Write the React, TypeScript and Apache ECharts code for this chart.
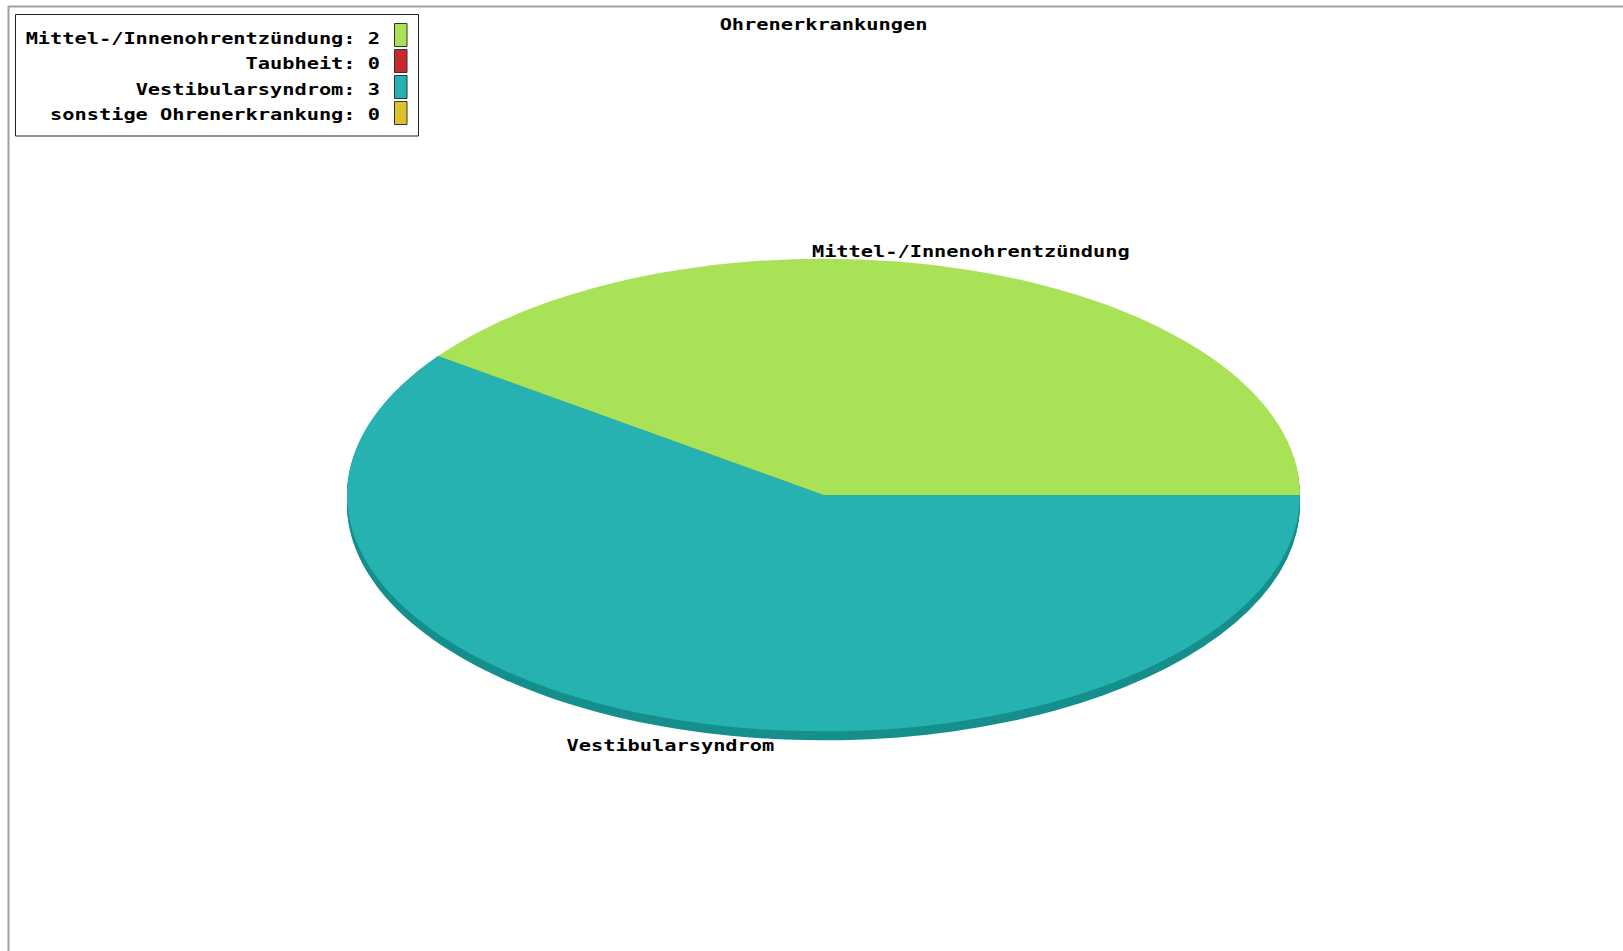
import React, { useEffect, useRef } from "react";
import * as echarts from "echarts";

const chartTitle = "Ohrenerkrankungen";
const categories = [
  "Mittel-/Innenohrentzündung",
  "Taubheit",
  "Vestibularsyndrom",
  "sonstige Ohrenerkrankung",
];
const values = [2, 0, 3, 0];
const colors = ["#a9e157", "#c8292b", "#25b2b0", "#ddc22c"];
const sideColors = ["#87b546", "#9a1f1f", "#168f8d", "#b09a22"];

const W = 1623;
const H = 951;
const CX = 823.5;
const CY = 495;
const RX = 476.5;
const RY = 236.5;
const DEPTH = 9;
const FONT = "bold 16px 'DejaVu Sans Mono'";
const SX = 1.27;

const rad = (d: number) => (d * Math.PI) / 180;

function sector(a0: number, a1: number, color: string, dy: number) {
  return {
    type: "sector",
    x: CX,
    y: CY + dy,
    scaleY: RY / RX,
    shape: {
      cx: 0,
      cy: 0,
      r: RX,
      r0: 0,
      startAngle: -rad(a1),
      endAngle: -rad(a0),
      clockwise: true,
    },
    style: { fill: color, stroke: null },
    silent: true,
  };
}

function txt(text: string, x: number, y: number, align: string) {
  return {
    type: "text",
    x,
    y,
    scaleX: SX,
    silent: true,
    style: {
      text,
      font: FONT,
      fill: "#000",
      align,
      textAlign: align,
      verticalAlign: "middle",
      textVerticalAlign: "middle",
    },
  };
}

export default function App() {
  const ref = useRef<HTMLDivElement>(null);

  useEffect(() => {
    const chart = echarts.init(ref.current!, null, { renderer: "svg" });
    const total = values.reduce((a, b) => a + b, 0);
    let acc = 0;
    const sliceData = values.map((v, i) => {
      const a0 = (acc / total) * 360;
      acc += v;
      const a1 = (acc / total) * 360;
      return { name: categories[i], value: [v, a0, a1, i] };
    });

    const legendX = 380;
    const legendY0 = 38;
    const legendStep = 25.6;
    const swY0 = 23.5;
    const swStep = 26;

    const graphic: any[] = [
      {
        type: "line",
        silent: true,
        shape: { x1: 8, y1: 6.5, x2: W, y2: 6.5 },
        style: { stroke: "#a0a0a0", lineWidth: 2 },
      },
      {
        type: "line",
        silent: true,
        shape: { x1: 8.5, y1: 6, x2: 8.5, y2: H },
        style: { stroke: "#a0a0a0", lineWidth: 2 },
      },
      {
        type: "rect",
        silent: true,
        shape: { x: 15.5, y: 14.5, width: 403, height: 121.5 },
        style: { fill: "#fff", stroke: "#222", lineWidth: 1 },
      },
      txt(chartTitle, 823.5, 24.2, "center"),
    ];
    categories.forEach((c, i) => {
      graphic.push(txt(`${c}: ${values[i]}`, legendX, legendY0 + legendStep * i, "right"));
      graphic.push({
        type: "rect",
        silent: true,
        shape: { x: 394.5, y: swY0 + swStep * i, width: 12.5, height: 23 },
        style: { fill: colors[i], stroke: "#333", lineWidth: 1 },
      });
    });

    chart.setOption({
      animation: false,
      backgroundColor: "#fff",
      graphic,
      series: [
        {
          type: "custom",
          coordinateSystem: "none",
          z: 1,
          silent: true,
          data: sliceData,
          renderItem: (params: any, api: any) => {
            const v = api.value(0);
            if (!v) return null;
            const a0 = api.value(1);
            const a1 = api.value(2);
            const i = api.value(3);
            const children: any[] = [];
            for (let d = DEPTH; d >= 1; d--) children.push(sector(a0, a1, sideColors[i], d));
            return { type: "group", children };
          },
        },
        {
          type: "custom",
          coordinateSystem: "none",
          z: 2,
          silent: true,
          data: sliceData,
          renderItem: (params: any, api: any) => {
            const v = api.value(0);
            if (!v) return null;
            const i = api.value(3);
            return sector(api.value(1), api.value(2), colors[i], 0);
          },
        },
        {
          type: "custom",
          coordinateSystem: "none",
          z: 3,
          silent: true,
          data: sliceData,
          renderItem: (params: any, api: any) => {
            const v = api.value(0);
            if (!v) return null;
            const i = api.value(3);
            const mid = rad((api.value(1) + api.value(2)) / 2);
            const s = Math.sin(mid);
            const c = Math.cos(mid);
            const lx = CX + RX * c * (s < 0 ? 1.04 : 1);
            const ly = CY - RY * s + (s >= 0 ? -19 : 25.5);
            return txt(categories[i], lx, ly, "center");
          },
        },
      ],
    });
    return () => chart.dispose();
  }, []);

  return (
    <div
      ref={ref}
      style={{ position: "fixed", left: 0, top: 0, width: W, height: H, background: "#fff" }}
    />
  );
}
